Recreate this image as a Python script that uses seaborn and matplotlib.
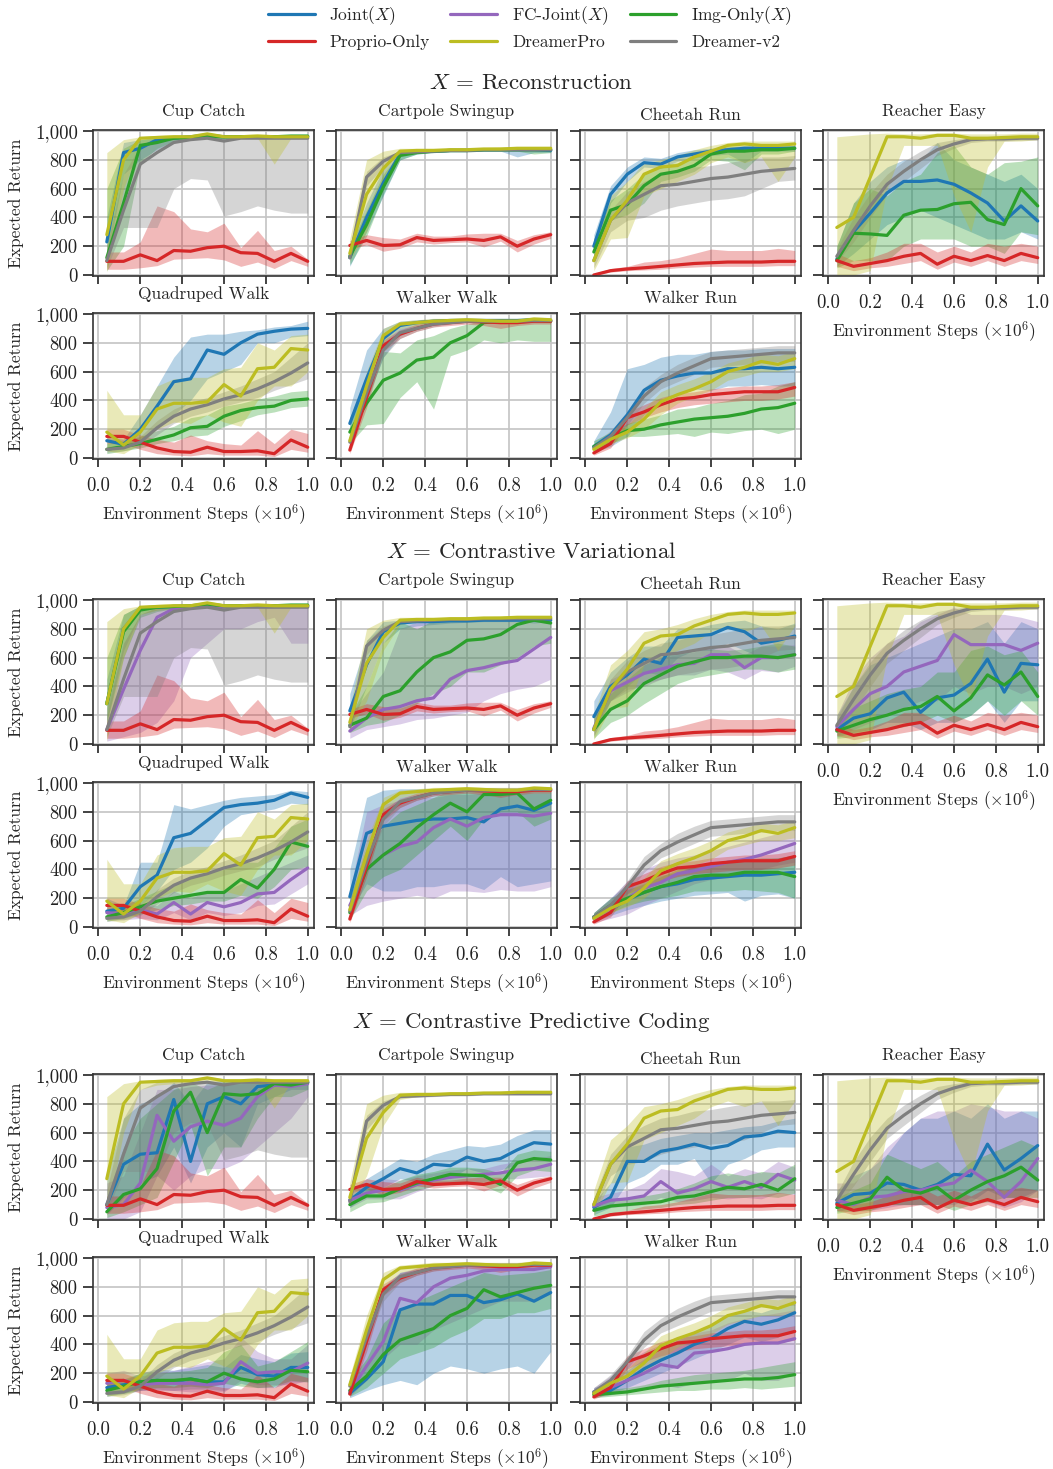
import matplotlib
matplotlib.use("Agg")
import matplotlib.pyplot as plt
from matplotlib.lines import Line2D
from matplotlib.ticker import FuncFormatter, MultipleLocator
import pandas as pd
import seaborn as sns

# Evaluation points (environment steps, x 1e6)
STEPS = [0.04, 0.12, 0.20, 0.28, 0.36, 0.44, 0.52, 0.60, 0.68, 0.76, 0.84, 0.92, 1.00]

# ---------------- Cup Catch ----------------
cup_proprio    = [95, 95, 140, 100, 170, 165, 190, 200, 155, 150, 95, 150, 95]
cup_proprio_lo = [40, 40, 50, 65, 110, 115, 120, 105, 60, 90, 45, 100, 60]
cup_proprio_hi = [160, 160, 230, 480, 440, 320, 300, 360, 190, 310, 170, 200, 110]
cup_pro        = [280, 800, 950, 955, 960, 960, 980, 960, 960, 965, 960, 960, 960]
cup_pro_lo     = [20, 600, 900, 930, 940, 950, 960, 950, 950, 950, 770, 950, 950]
cup_pro_hi     = [850, 940, 960, 970, 975, 975, 990, 975, 975, 980, 975, 975, 975]
cup_dv2        = [100, 450, 770, 850, 920, 940, 950, 930, 950, 950, 950, 950, 950]
cup_dv2_lo     = [50, 330, 330, 330, 600, 670, 660, 410, 440, 480, 450, 430, 430]
cup_dv2_hi     = [200, 700, 900, 950, 960, 960, 960, 960, 960, 960, 960, 960, 960]
cup_joint_rec    = [230, 850, 880, 940, 950, 960, 970, 960, 960, 960, 960, 960, 960]
cup_joint_rec_lo = [100, 700, 800, 870, 930, 940, 950, 940, 950, 950, 950, 950, 950]
cup_joint_rec_hi = [400, 920, 940, 960, 970, 975, 980, 975, 975, 975, 975, 975, 975]
cup_img_rec      = [120, 500, 900, 920, 950, 955, 960, 960, 960, 960, 960, 965, 965]
cup_img_rec_lo   = [30, 200, 780, 880, 930, 940, 950, 950, 950, 950, 950, 955, 955]
cup_img_rec_hi   = [600, 880, 940, 950, 965, 970, 975, 970, 970, 975, 975, 975, 975]
cup_joint_cv     = [280, 800, 940, 950, 955, 955, 960, 955, 960, 960, 960, 960, 960]
cup_joint_cv_lo  = [150, 650, 900, 930, 940, 945, 950, 945, 950, 950, 950, 950, 950]
cup_joint_cv_hi  = [450, 900, 960, 965, 970, 970, 975, 970, 975, 975, 975, 975, 975]
cup_fc_cv        = [100, 380, 650, 880, 940, 950, 955, 950, 955, 955, 955, 955, 955]
cup_fc_cv_lo     = [20, 50, 80, 150, 300, 600, 700, 800, 800, 850, 880, 700, 700]
cup_fc_cv_hi     = [250, 700, 900, 950, 960, 965, 970, 965, 965, 965, 965, 965, 965]
cup_img_cv       = [280, 780, 930, 950, 955, 960, 970, 960, 960, 960, 960, 965, 965]
cup_img_cv_lo    = [150, 600, 880, 920, 940, 945, 955, 950, 950, 950, 950, 955, 955]
cup_img_cv_hi    = [600, 900, 960, 965, 970, 970, 980, 970, 970, 975, 975, 975, 975]
cup_joint_cpc    = [100, 380, 450, 460, 830, 400, 800, 850, 800, 920, 930, 950, 950]
cup_joint_cpc_lo = [30, 150, 250, 300, 500, 250, 500, 600, 500, 800, 850, 900, 900]
cup_joint_cpc_hi = [300, 700, 800, 850, 950, 800, 950, 960, 950, 960, 965, 965, 965]
cup_fc_cpc       = [80, 100, 250, 720, 540, 640, 680, 650, 700, 850, 930, 920, 940]
cup_fc_cpc_lo    = [0, 0, 50, 300, 200, 300, 350, 350, 400, 500, 600, 700, 850]
cup_fc_cpc_hi    = [250, 300, 600, 900, 900, 920, 930, 930, 940, 950, 960, 960, 960]
cup_img_cpc      = [50, 170, 210, 350, 750, 880, 600, 870, 860, 870, 940, 930, 950]
cup_img_cpc_lo   = [10, 50, 100, 150, 400, 650, 300, 500, 500, 700, 850, 850, 900]
cup_img_cpc_hi   = [150, 500, 700, 800, 900, 950, 900, 950, 950, 950, 960, 960, 960]

# ---------------- Cartpole Swingup ----------------
cartpole_proprio    = [205, 240, 205, 210, 260, 240, 245, 250, 240, 265, 200, 250, 280]
cartpole_proprio_lo = [180, 210, 165, 185, 230, 215, 225, 230, 195, 235, 160, 215, 255]
cartpole_proprio_hi = [240, 280, 260, 250, 290, 270, 270, 285, 290, 290, 240, 280, 300]
cartpole_pro        = [150, 560, 740, 860, 865, 865, 870, 870, 875, 875, 880, 880, 880]
cartpole_pro_lo     = [100, 300, 650, 830, 850, 855, 860, 860, 865, 865, 870, 870, 870]
cartpole_pro_hi     = [250, 800, 860, 880, 880, 880, 880, 885, 885, 890, 890, 890, 890]
cartpole_dv2        = [120, 680, 790, 850, 855, 860, 865, 865, 870, 870, 870, 870, 870]
cartpole_dv2_lo     = [80, 620, 750, 840, 845, 850, 855, 855, 860, 860, 860, 860, 860]
cartpole_dv2_hi     = [160, 720, 820, 860, 865, 870, 875, 875, 880, 880, 880, 880, 880]
cartpole_joint_rec    = [120, 400, 640, 840, 855, 860, 865, 865, 870, 870, 870, 870, 865]
cartpole_joint_rec_lo = [60, 300, 550, 800, 840, 850, 855, 855, 860, 860, 820, 850, 850]
cartpole_joint_rec_hi = [200, 500, 740, 860, 865, 870, 875, 875, 880, 880, 880, 880, 880]
cartpole_img_rec      = [130, 350, 610, 830, 850, 860, 865, 865, 870, 870, 870, 870, 870]
cartpole_img_rec_lo   = [70, 270, 560, 800, 840, 850, 855, 855, 860, 860, 860, 840, 850]
cartpole_img_rec_hi   = [200, 450, 700, 850, 865, 870, 875, 875, 880, 880, 880, 880, 880]
cartpole_joint_cv     = [230, 550, 780, 840, 850, 850, 855, 855, 860, 860, 860, 860, 860]
cartpole_joint_cv_lo  = [100, 400, 700, 800, 820, 830, 840, 845, 850, 850, 850, 840, 850]
cartpole_joint_cv_hi  = [350, 720, 850, 860, 870, 870, 870, 870, 875, 875, 875, 875, 875]
cartpole_fc_cv        = [90, 180, 240, 260, 300, 320, 450, 510, 530, 560, 580, 660, 740]
cartpole_fc_cv_lo     = [40, 100, 120, 140, 170, 180, 200, 220, 300, 350, 380, 400, 450]
cartpole_fc_cv_hi     = [200, 350, 500, 800, 850, 860, 860, 860, 860, 860, 860, 850, 850]
cartpole_img_cv       = [130, 180, 330, 370, 500, 600, 640, 720, 730, 760, 830, 860, 840]
cartpole_img_cv_lo    = [80, 130, 150, 200, 280, 350, 400, 500, 500, 550, 600, 680, 700]
cartpole_img_cv_hi    = [200, 400, 700, 850, 800, 860, 860, 860, 860, 870, 870, 870, 870]
cartpole_joint_cpc    = [130, 220, 280, 350, 320, 380, 370, 430, 400, 420, 480, 530, 520]
cartpole_joint_cpc_lo = [80, 170, 220, 280, 260, 300, 280, 350, 320, 340, 380, 430, 420]
cartpole_joint_cpc_hi = [200, 280, 350, 420, 400, 450, 480, 510, 500, 520, 580, 620, 620]
cartpole_fc_cpc       = [130, 180, 200, 200, 240, 270, 290, 300, 310, 320, 340, 350, 380]
cartpole_fc_cpc_lo    = [80, 140, 140, 140, 190, 230, 240, 240, 260, 280, 280, 290, 300]
cartpole_fc_cpc_hi    = [200, 230, 280, 270, 300, 320, 340, 350, 350, 380, 400, 420, 440]
cartpole_img_cpc      = [100, 160, 160, 210, 250, 280, 310, 305, 300, 240, 390, 420, 410]
cartpole_img_cpc_lo   = [50, 110, 120, 160, 200, 230, 250, 250, 230, 180, 300, 340, 330]
cartpole_img_cpc_hi   = [150, 220, 220, 270, 310, 330, 360, 360, 350, 320, 450, 480, 470]

# ---------------- Cheetah Run ----------------
cheetah_proprio    = [0, 30, 42, 50, 60, 70, 80, 85, 90, 90, 90, 95, 95]
cheetah_proprio_lo = [0, 20, 30, 35, 40, 50, 55, 60, 60, 60, 60, 65, 65]
cheetah_proprio_hi = [10, 45, 60, 90, 100, 120, 150, 180, 170, 170, 170, 185, 170]
cheetah_pro        = [100, 380, 520, 700, 750, 760, 820, 860, 900, 910, 900, 900, 910]
cheetah_pro_lo     = [30, 250, 260, 550, 600, 650, 700, 780, 820, 780, 820, 650, 820]
cheetah_pro_hi     = [200, 550, 650, 780, 800, 830, 870, 900, 920, 930, 930, 930, 930]
cheetah_dv2        = [100, 380, 500, 560, 620, 630, 650, 670, 680, 700, 720, 730, 740]
cheetah_dv2_lo     = [50, 300, 380, 400, 450, 480, 500, 520, 530, 550, 600, 650, 660]
cheetah_dv2_hi     = [150, 450, 580, 650, 700, 720, 750, 760, 780, 800, 820, 820, 830]
cheetah_joint_rec    = [200, 560, 700, 780, 770, 820, 840, 860, 870, 880, 880, 880, 880]
cheetah_joint_rec_lo = [130, 500, 650, 750, 740, 790, 810, 830, 840, 780, 860, 860, 860]
cheetah_joint_rec_hi = [280, 620, 750, 820, 810, 850, 870, 880, 890, 900, 900, 900, 900]
cheetah_img_rec      = [160, 450, 490, 620, 700, 720, 760, 840, 860, 860, 870, 870, 880]
cheetah_img_rec_lo   = [100, 380, 420, 500, 650, 680, 720, 800, 790, 730, 840, 840, 860]
cheetah_img_rec_hi   = [250, 520, 600, 700, 760, 780, 830, 870, 890, 890, 890, 890, 900]
cheetah_joint_cv     = [190, 400, 480, 590, 560, 740, 750, 760, 810, 780, 700, 720, 750]
cheetah_joint_cv_lo  = [100, 300, 400, 500, 480, 600, 650, 650, 700, 650, 600, 600, 620]
cheetah_joint_cv_hi  = [300, 500, 600, 680, 680, 800, 800, 830, 850, 860, 820, 800, 840]
cheetah_fc_cv        = [110, 370, 430, 490, 520, 550, 560, 620, 620, 530, 600, 600, 620]
cheetah_fc_cv_lo     = [60, 300, 360, 420, 450, 480, 480, 520, 500, 450, 510, 500, 540]
cheetah_fc_cv_hi     = [180, 450, 500, 560, 600, 620, 640, 680, 680, 620, 680, 680, 690]
cheetah_img_cv       = [100, 240, 300, 420, 480, 540, 570, 600, 600, 610, 610, 600, 620]
cheetah_img_cv_lo    = [40, 150, 200, 280, 350, 420, 460, 480, 500, 520, 520, 500, 520]
cheetah_img_cv_hi    = [200, 350, 450, 550, 600, 640, 650, 660, 650, 660, 680, 700, 680]
cheetah_joint_cpc    = [80, 150, 400, 400, 470, 490, 520, 490, 510, 570, 580, 610, 600]
cheetah_joint_cpc_lo = [30, 80, 250, 300, 380, 380, 420, 250, 380, 420, 480, 500, 500]
cheetah_joint_cpc_hi = [120, 250, 500, 520, 560, 580, 600, 600, 620, 640, 650, 680, 700]
cheetah_fc_cpc       = [90, 130, 140, 160, 260, 180, 210, 260, 220, 260, 220, 310, 270]
cheetah_fc_cpc_lo    = [50, 80, 90, 100, 150, 120, 130, 150, 140, 150, 140, 180, 170]
cheetah_fc_cpc_hi    = [150, 180, 200, 250, 350, 330, 300, 380, 300, 350, 320, 400, 360]
cheetah_img_cpc      = [60, 90, 100, 110, 120, 150, 160, 190, 220, 210, 240, 200, 280]
cheetah_img_cpc_lo   = [20, 40, 60, 70, 80, 100, 110, 130, 150, 150, 160, 150, 180]
cheetah_img_cpc_hi   = [100, 130, 150, 160, 180, 210, 250, 300, 320, 300, 330, 320, 380]

# ---------------- Reacher Easy ----------------
reacher_proprio    = [100, 60, 80, 100, 130, 150, 75, 130, 100, 135, 100, 150, 120]
reacher_proprio_lo = [60, 30, 50, 60, 80, 100, 40, 90, 60, 100, 60, 100, 80]
reacher_proprio_hi = [150, 100, 120, 160, 220, 220, 160, 200, 160, 220, 200, 220, 200]
reacher_pro        = [330, 400, 680, 960, 960, 950, 970, 970, 950, 950, 955, 960, 960]
reacher_pro_lo     = [0, 0, 30, 600, 900, 900, 900, 550, 300, 750, 930, 930, 940]
reacher_pro_hi     = [960, 970, 980, 985, 980, 980, 985, 985, 980, 980, 980, 985, 985]
reacher_dv2        = [130, 310, 480, 630, 720, 800, 870, 910, 940, 945, 945, 950, 950]
reacher_dv2_lo     = [90, 230, 400, 560, 650, 740, 830, 880, 920, 930, 930, 935, 935]
reacher_dv2_hi     = [180, 400, 570, 700, 790, 860, 920, 940, 955, 960, 960, 962, 962]
reacher_joint_rec    = [110, 300, 430, 570, 650, 650, 660, 630, 570, 500, 375, 480, 375]
reacher_joint_rec_lo = [60, 150, 250, 350, 400, 450, 400, 350, 300, 250, 250, 300, 250]
reacher_joint_rec_hi = [200, 500, 650, 750, 800, 800, 920, 800, 750, 700, 650, 700, 600]
reacher_img_rec      = [100, 290, 285, 275, 415, 450, 455, 495, 505, 385, 350, 600, 480]
reacher_img_rec_lo   = [50, 100, 100, 100, 200, 250, 250, 250, 200, 200, 150, 300, 280]
reacher_img_rec_hi   = [200, 500, 600, 550, 650, 700, 850, 900, 750, 700, 780, 790, 820]
reacher_joint_cv     = [100, 180, 210, 320, 360, 220, 320, 340, 420, 590, 360, 560, 550]
reacher_joint_cv_lo  = [50, 80, 100, 150, 150, 100, 150, 150, 200, 300, 150, 300, 300]
reacher_joint_cv_hi  = [200, 400, 550, 600, 650, 700, 750, 800, 800, 850, 700, 850, 800]
reacher_fc_cv        = [120, 240, 350, 400, 500, 540, 580, 760, 690, 690, 690, 650, 700]
reacher_fc_cv_lo     = [60, 100, 150, 200, 250, 300, 300, 400, 350, 400, 400, 350, 400]
reacher_fc_cv_hi     = [200, 450, 600, 700, 750, 850, 900, 950, 900, 900, 900, 880, 850]
reacher_img_cv       = [90, 130, 170, 200, 240, 260, 330, 230, 320, 480, 410, 500, 330]
reacher_img_cv_lo    = [40, 50, 80, 100, 120, 150, 200, 150, 200, 300, 200, 300, 200]
reacher_img_cv_hi    = [150, 250, 300, 350, 380, 400, 500, 500, 650, 680, 620, 650, 500]
reacher_joint_cpc    = [110, 170, 180, 250, 240, 200, 240, 310, 300, 520, 340, 420, 510]
reacher_joint_cpc_lo = [50, 80, 80, 100, 100, 100, 100, 120, 120, 200, 150, 150, 200]
reacher_joint_cpc_hi = [200, 300, 350, 450, 600, 700, 700, 750, 700, 800, 700, 750, 750]
reacher_fc_cpc       = [130, 100, 150, 160, 190, 200, 230, 250, 340, 260, 150, 260, 420]
reacher_fc_cpc_lo    = [60, 50, 60, 80, 100, 100, 100, 100, 150, 120, 80, 120, 200]
reacher_fc_cpc_hi    = [250, 250, 350, 500, 600, 700, 750, 750, 800, 780, 750, 750, 700]
reacher_img_cpc      = [80, 110, 140, 290, 200, 180, 220, 130, 200, 260, 300, 360, 270]
reacher_img_cpc_lo   = [40, 60, 60, 100, 100, 100, 100, 60, 100, 120, 150, 150, 150]
reacher_img_cpc_hi   = [150, 200, 250, 450, 400, 350, 400, 300, 400, 450, 500, 550, 500]

# ---------------- Quadruped Walk ----------------
quadruped_proprio    = [150, 150, 110, 70, 45, 40, 75, 45, 45, 50, 30, 125, 75]
quadruped_proprio_lo = [100, 100, 60, 30, 20, 15, 30, 20, 20, 20, 10, 60, 40]
quadruped_proprio_hi = [200, 200, 160, 130, 110, 160, 120, 100, 90, 190, 100, 200, 170]
quadruped_pro        = [180, 90, 180, 340, 380, 380, 390, 510, 430, 620, 630, 760, 750]
quadruped_pro_lo     = [50, 30, 100, 200, 250, 240, 300, 250, 220, 400, 500, 500, 600]
quadruped_pro_hi     = [470, 300, 300, 500, 550, 560, 560, 620, 630, 800, 750, 850, 860]
quadruped_dv2        = [60, 70, 110, 210, 290, 340, 370, 410, 440, 480, 530, 590, 660]
quadruped_dv2_lo     = [40, 50, 80, 160, 240, 290, 320, 360, 390, 420, 470, 510, 550]
quadruped_dv2_hi     = [80, 90, 150, 260, 340, 390, 420, 460, 500, 550, 600, 700, 800]
quadruped_joint_rec    = [120, 95, 200, 360, 530, 550, 750, 720, 800, 860, 880, 895, 900]
quadruped_joint_rec_lo = [80, 70, 100, 200, 300, 400, 550, 600, 650, 800, 800, 840, 850]
quadruped_joint_rec_hi = [150, 130, 300, 500, 700, 840, 860, 860, 880, 890, 910, 920, 950]
quadruped_img_rec      = [60, 80, 100, 130, 160, 210, 220, 290, 330, 350, 360, 400, 410]
quadruped_img_rec_lo   = [30, 50, 70, 100, 120, 150, 160, 220, 260, 300, 320, 350, 360]
quadruped_img_rec_hi   = [100, 120, 150, 190, 220, 280, 300, 360, 380, 410, 430, 460, 470]
quadruped_joint_cv     = [110, 130, 280, 360, 620, 650, 740, 830, 850, 860, 880, 930, 900]
quadruped_joint_cv_lo  = [60, 80, 150, 250, 400, 450, 550, 700, 780, 800, 820, 860, 850]
quadruped_joint_cv_hi  = [200, 150, 450, 450, 850, 820, 850, 880, 900, 910, 920, 950, 940]
quadruped_fc_cv        = [100, 90, 120, 90, 170, 90, 170, 140, 170, 230, 240, 330, 410]
quadruped_fc_cv_lo     = [60, 50, 60, 50, 100, 50, 100, 80, 100, 150, 160, 230, 300]
quadruped_fc_cv_hi     = [150, 130, 160, 150, 250, 200, 250, 250, 300, 350, 400, 450, 500]
quadruped_img_cv       = [70, 100, 140, 180, 200, 220, 240, 240, 330, 270, 400, 590, 560]
quadruped_img_cv_lo    = [40, 60, 90, 120, 150, 160, 180, 180, 220, 200, 280, 400, 420]
quadruped_img_cv_hi    = [110, 150, 200, 250, 300, 350, 380, 400, 450, 450, 550, 700, 750]
quadruped_joint_cpc    = [100, 120, 140, 150, 140, 160, 140, 140, 240, 190, 180, 240, 240]
quadruped_joint_cpc_lo = [50, 60, 80, 90, 80, 90, 90, 80, 130, 100, 100, 140, 140]
quadruped_joint_cpc_hi = [150, 150, 200, 230, 220, 240, 260, 240, 330, 300, 280, 340, 350]
quadruped_fc_cpc       = [130, 150, 120, 130, 130, 130, 120, 130, 280, 200, 210, 210, 270]
quadruped_fc_cpc_lo    = [80, 90, 80, 80, 80, 70, 70, 70, 150, 120, 120, 120, 150]
quadruped_fc_cpc_hi    = [200, 220, 180, 200, 220, 250, 280, 300, 450, 350, 300, 300, 400]
quadruped_img_cpc      = [80, 110, 140, 150, 150, 160, 140, 200, 160, 140, 160, 220, 210]
quadruped_img_cpc_lo   = [40, 60, 90, 100, 100, 110, 100, 130, 110, 100, 110, 150, 140]
quadruped_img_cpc_hi   = [130, 160, 200, 200, 210, 220, 240, 350, 400, 250, 280, 350, 420]

# ---------------- Walker Walk ----------------
walkerwalk_proprio    = [55, 420, 780, 860, 900, 930, 940, 950, 945, 940, 940, 950, 950]
walkerwalk_proprio_lo = [30, 350, 740, 830, 880, 910, 920, 930, 920, 900, 920, 930, 930]
walkerwalk_proprio_hi = [80, 480, 820, 890, 930, 950, 960, 960, 960, 960, 960, 965, 965]
walkerwalk_pro        = [120, 500, 850, 930, 940, 950, 955, 960, 955, 950, 950, 965, 960]
walkerwalk_pro_lo     = [80, 400, 800, 900, 920, 930, 940, 950, 940, 930, 930, 950, 940]
walkerwalk_pro_hi     = [180, 600, 900, 950, 960, 970, 970, 975, 970, 970, 970, 980, 975]
walkerwalk_dv2        = [110, 450, 750, 870, 900, 930, 940, 950, 950, 950, 950, 955, 955]
walkerwalk_dv2_lo     = [80, 400, 700, 830, 880, 910, 930, 940, 940, 940, 940, 945, 945]
walkerwalk_dv2_hi     = [150, 500, 800, 900, 920, 950, 955, 960, 960, 960, 960, 965, 965]
walkerwalk_joint_rec    = [240, 550, 830, 920, 940, 950, 955, 955, 955, 955, 955, 960, 955]
walkerwalk_joint_rec_lo = [150, 400, 700, 850, 900, 930, 940, 940, 940, 940, 940, 940, 940]
walkerwalk_joint_rec_hi = [350, 750, 900, 950, 960, 965, 965, 965, 965, 965, 965, 970, 965]
walkerwalk_img_rec      = [180, 380, 540, 590, 680, 700, 800, 850, 940, 950, 950, 960, 950]
walkerwalk_img_rec_lo   = [100, 230, 240, 420, 530, 340, 710, 750, 820, 800, 820, 810, 810]
walkerwalk_img_rec_hi   = [280, 560, 740, 730, 820, 850, 900, 930, 960, 960, 960, 970, 960]
walkerwalk_joint_cv     = [210, 650, 700, 720, 740, 750, 750, 760, 730, 820, 840, 810, 860]
walkerwalk_joint_cv_lo  = [100, 300, 250, 250, 280, 280, 300, 300, 260, 350, 280, 300, 320]
walkerwalk_joint_cv_hi  = [400, 900, 950, 960, 960, 960, 960, 960, 960, 960, 960, 960, 960]
walkerwalk_fc_cv        = [150, 400, 500, 560, 590, 690, 750, 700, 760, 780, 780, 770, 790]
walkerwalk_fc_cv_lo     = [80, 150, 180, 200, 220, 200, 250, 250, 240, 260, 250, 250, 280]
walkerwalk_fc_cv_hi     = [250, 800, 850, 880, 900, 900, 920, 920, 930, 930, 930, 930, 930]
walkerwalk_img_cv       = [100, 400, 500, 580, 690, 780, 860, 800, 920, 920, 930, 820, 880]
walkerwalk_img_cv_lo    = [50, 250, 350, 400, 500, 600, 700, 600, 750, 800, 800, 700, 750]
walkerwalk_img_cv_hi    = [200, 550, 700, 800, 850, 900, 950, 960, 960, 960, 960, 960, 960]
walkerwalk_joint_cpc    = [60, 160, 280, 640, 680, 680, 740, 740, 690, 710, 750, 700, 760]
walkerwalk_joint_cpc_lo = [30, 80, 120, 150, 120, 200, 250, 230, 200, 230, 250, 200, 350]
walkerwalk_joint_cpc_hi = [150, 500, 800, 900, 920, 930, 940, 940, 940, 940, 940, 940, 940]
walkerwalk_fc_cpc       = [70, 250, 420, 720, 690, 800, 860, 880, 910, 920, 920, 920, 940]
walkerwalk_fc_cpc_lo    = [40, 150, 300, 400, 400, 500, 550, 600, 650, 700, 700, 700, 750]
walkerwalk_fc_cpc_hi    = [150, 500, 750, 900, 930, 940, 950, 950, 960, 960, 960, 960, 960]
walkerwalk_img_cpc      = [80, 180, 330, 430, 470, 510, 600, 650, 780, 730, 760, 790, 810]
walkerwalk_img_cpc_lo   = [40, 100, 200, 300, 340, 380, 450, 500, 580, 580, 620, 620, 650]
walkerwalk_img_cpc_hi   = [150, 300, 550, 650, 700, 750, 800, 850, 900, 880, 890, 900, 920]

# ---------------- Walker Run ----------------
walkerrun_proprio    = [35, 100, 280, 320, 370, 410, 420, 440, 450, 460, 460, 460, 490]
walkerrun_proprio_lo = [20, 70, 230, 280, 320, 350, 370, 380, 390, 400, 400, 410, 430]
walkerrun_proprio_hi = [50, 130, 320, 370, 420, 450, 460, 480, 490, 500, 500, 510, 530]
walkerrun_pro        = [60, 130, 180, 270, 390, 440, 480, 530, 600, 630, 670, 650, 690]
walkerrun_pro_lo     = [40, 100, 140, 200, 300, 380, 430, 470, 540, 570, 600, 600, 620]
walkerrun_pro_hi     = [80, 160, 230, 340, 460, 510, 550, 600, 660, 690, 720, 710, 740]
walkerrun_dv2        = [70, 150, 280, 430, 530, 590, 640, 690, 700, 710, 720, 730, 730]
walkerrun_dv2_lo     = [50, 120, 230, 380, 480, 530, 580, 630, 640, 650, 660, 670, 670]
walkerrun_dv2_hi     = [100, 190, 320, 490, 580, 650, 700, 740, 750, 760, 770, 780, 780]
walkerrun_joint_rec    = [80, 160, 300, 470, 540, 570, 590, 590, 620, 620, 630, 620, 630]
walkerrun_joint_rec_lo = [40, 80, 150, 300, 380, 450, 480, 470, 500, 500, 510, 500, 500]
walkerrun_joint_rec_hi = [120, 320, 620, 650, 700, 720, 720, 740, 750, 750, 760, 760, 760]
walkerrun_img_rec      = [80, 140, 190, 200, 230, 250, 270, 280, 290, 310, 340, 350, 380]
walkerrun_img_rec_lo   = [50, 100, 150, 150, 160, 170, 150, 180, 170, 190, 200, 170, 200]
walkerrun_img_rec_hi   = [120, 180, 240, 270, 300, 340, 350, 380, 400, 440, 450, 500, 530]
walkerrun_joint_cv     = [70, 120, 190, 240, 280, 300, 330, 340, 350, 360, 360, 370, 380]
walkerrun_joint_cv_lo  = [40, 80, 120, 150, 180, 200, 220, 230, 240, 180, 220, 230, 200]
walkerrun_joint_cv_hi  = [100, 200, 300, 330, 360, 380, 420, 440, 450, 460, 470, 480, 500]
walkerrun_fc_cv        = [60, 120, 200, 270, 310, 370, 390, 420, 450, 470, 500, 540, 580]
walkerrun_fc_cv_lo     = [30, 60, 90, 150, 200, 250, 300, 330, 350, 370, 400, 430, 450]
walkerrun_fc_cv_hi     = [100, 200, 320, 400, 450, 480, 500, 530, 560, 590, 620, 650, 680]
walkerrun_img_cv       = [70, 150, 200, 240, 280, 310, 350, 360, 360, 380, 380, 380, 350]
walkerrun_img_cv_lo    = [40, 100, 150, 180, 200, 220, 250, 250, 250, 260, 250, 240, 200]
walkerrun_img_cv_hi    = [100, 200, 260, 300, 350, 400, 430, 450, 460, 470, 480, 480, 500]
walkerrun_joint_cpc    = [70, 80, 150, 230, 290, 340, 400, 440, 510, 560, 540, 570, 620]
walkerrun_joint_cpc_lo = [40, 60, 100, 150, 200, 250, 300, 350, 400, 450, 420, 450, 500]
walkerrun_joint_cpc_hi = [100, 140, 220, 300, 380, 430, 480, 530, 600, 640, 620, 660, 700]
walkerrun_fc_cpc       = [60, 100, 150, 200, 260, 240, 340, 350, 370, 400, 410, 410, 440]
walkerrun_fc_cpc_lo    = [30, 50, 80, 100, 120, 100, 130, 150, 150, 200, 150, 150, 200]
walkerrun_fc_cpc_hi    = [100, 180, 280, 350, 400, 450, 480, 500, 550, 580, 600, 620, 640]
walkerrun_img_cpc      = [50, 60, 70, 90, 110, 120, 130, 140, 150, 160, 160, 170, 190]
walkerrun_img_cpc_lo   = [30, 40, 50, 60, 70, 80, 80, 90, 90, 100, 90, 100, 110]
walkerrun_img_cpc_hi   = [80, 90, 100, 120, 150, 170, 190, 200, 210, 220, 240, 260, 280]

# ---------------- Layout / labels ----------------
TASKS = [
    ("cup", "Cup Catch", 0, 0),
    ("cartpole", "Cartpole Swingup", 0, 1),
    ("cheetah", "Cheetah Run", 0, 2),
    ("reacher", "Reacher Easy", 0, 3),
    ("quadruped", "Quadruped Walk", 1, 0),
    ("walkerwalk", "Walker Walk", 1, 1),
    ("walkerrun", "Walker Run", 1, 2),
]
SECTIONS = [
    ("rec", r"$X$ = Reconstruction", ["joint", "img"]),
    ("cv", r"$X$ = Contrastive Variational", ["joint", "fc", "img"]),
    ("cpc", r"$X$ = Contrastive Predictive Coding", ["joint", "fc", "img"]),
]
BASELINES = ["proprio", "dv2", "pro"]
LABELS = {
    "joint": r"Joint($X$)", "fc": r"FC-Joint($X$)", "img": r"Img-Only($X$)",
    "proprio": "Proprio-Only", "pro": "DreamerPro", "dv2": "Dreamer-v2",
}
COLORS = {
    "joint": "#1f77b4", "fc": "#9467bd", "img": "#2ca02c",
    "proprio": "#d62728", "pro": "#bcbd22", "dv2": "#7f7f7f",
}

sns.set_theme(style="whitegrid")
plt.rcParams.update({
    "font.family": ["cmr10", "DejaVu Serif"],
    "mathtext.fontset": "cm",
    "axes.formatter.use_mathtext": True,
    "axes.unicode_minus": False,
    "axes.edgecolor": "#333333",
    "axes.linewidth": 1.2,
    "grid.color": "#c4c4c4",
    "grid.linewidth": 1.2,
    "xtick.bottom": True,
    "ytick.left": True,
    "xtick.direction": "out",
    "ytick.direction": "out",
    "xtick.major.size": 6,
    "ytick.major.size": 7,
    "xtick.major.width": 1.2,
    "ytick.major.width": 1.2,
    "xtick.color": "#222222",
    "ytick.color": "#222222",
    "xtick.labelsize": 13.5,
    "ytick.labelsize": 13.5,
})

W, H = 1053, 1469
fig = plt.figure(figsize=(W / 100, H / 100), dpi=100)

COL_LEFT = [93, 336, 580, 823]
COL_W = 221
ZERO_ROW = [275, 458, 744, 927, 1219, 1402]
PX_PER_UNIT = 0.144
YLIM = (-10, 1010)
SECTION_TITLE_Y = [83, 552, 1022]


def series(task, method, sec):
    key = f"{task}_{method}" if method in BASELINES else f"{task}_{method}_{sec}"
    g = globals()
    return g[key], g[key + "_lo"], g[key + "_hi"]


def axes_rect(zero_px, col):
    top = zero_px - YLIM[1] * PX_PER_UNIT
    bottom = zero_px - YLIM[0] * PX_PER_UNIT
    return [COL_LEFT[col] / W, 1 - bottom / H, COL_W / W, (bottom - top) / H]


for s_idx, (sec, sec_title, methods) in enumerate(SECTIONS):
    order = [m for m in ["joint", "fc", "img"] if m in methods] + BASELINES
    fig.text(531 / W, 1 - SECTION_TITLE_Y[s_idx] / H, sec_title,
             ha="center", va="center", fontsize=16.5)
    for task, title, row, col in TASKS:
        ax = fig.add_axes(axes_rect(ZERO_ROW[2 * s_idx + row], col))
        frames = []
        for m in order:
            mean, lo, hi = series(task, m, sec)
            ax.fill_between(STEPS, lo, hi, color=COLORS[m], alpha=0.32, lw=0)
            frames.append(pd.DataFrame({"step": STEPS, "ret": mean, "method": m}))
        df = pd.concat(frames, ignore_index=True)
        sns.lineplot(data=df, x="step", y="ret", hue="method", hue_order=order,
                     palette=COLORS, linewidth=2.3, legend=False, errorbar=None,
                     ax=ax)
        ax.set_xlim(-0.026, 1.03)
        ax.set_ylim(*YLIM)
        ax.xaxis.set_major_locator(MultipleLocator(0.2))
        ax.yaxis.set_major_locator(MultipleLocator(200))
        ax.xaxis.set_major_formatter(FuncFormatter(lambda v, p: f"{v:.1f}"))
        ax.yaxis.set_major_formatter(FuncFormatter(lambda v, p: f"{int(round(v)):,}"))
        ax.tick_params(axis="y", pad=4)
        ax.tick_params(axis="x", pad=7)
        for sp in ax.spines.values():
            sp.set_visible(True)
            sp.set_color("#333333")
            sp.set_linewidth(1.2)
        ax.grid(True, color="#c4c4c4", lw=1.2)
        has_desc = any(ch in title for ch in "gjpqyQ")
        ax.set_title(title, fontsize=12.5, pad=9.5 if has_desc else 6.8)
        if col == 0:
            ax.set_ylabel("Expected Return", fontsize=12.5)
            ax.yaxis.set_label_coords(-0.31, 0.5)
        else:
            ax.set_ylabel("")
            ax.tick_params(axis="y", labelleft=False)
        if row == 1 or col == 3:
            ax.set_xlabel(r"Environment Steps ($\times 10^6$)", fontsize=12.5,
                          labelpad=5)
        else:
            ax.set_xlabel("")
            ax.tick_params(axis="x", labelbottom=False)

# Legend (column-major fill for three columns)
leg_order = ["joint", "proprio", "fc", "pro", "img", "dv2"]
handles = [Line2D([0], [0], color=COLORS[m], lw=2.3) for m in leg_order]
fig.legend(handles, [LABELS[m] for m in leg_order], loc="upper center",
           bbox_to_anchor=(0.503, 1.008), ncol=3, frameon=False, fontsize=12.5,
           handlelength=2.7, handletextpad=0.85, columnspacing=1.2,
           labelspacing=0.48)

fig.savefig("out.png", dpi=100)
